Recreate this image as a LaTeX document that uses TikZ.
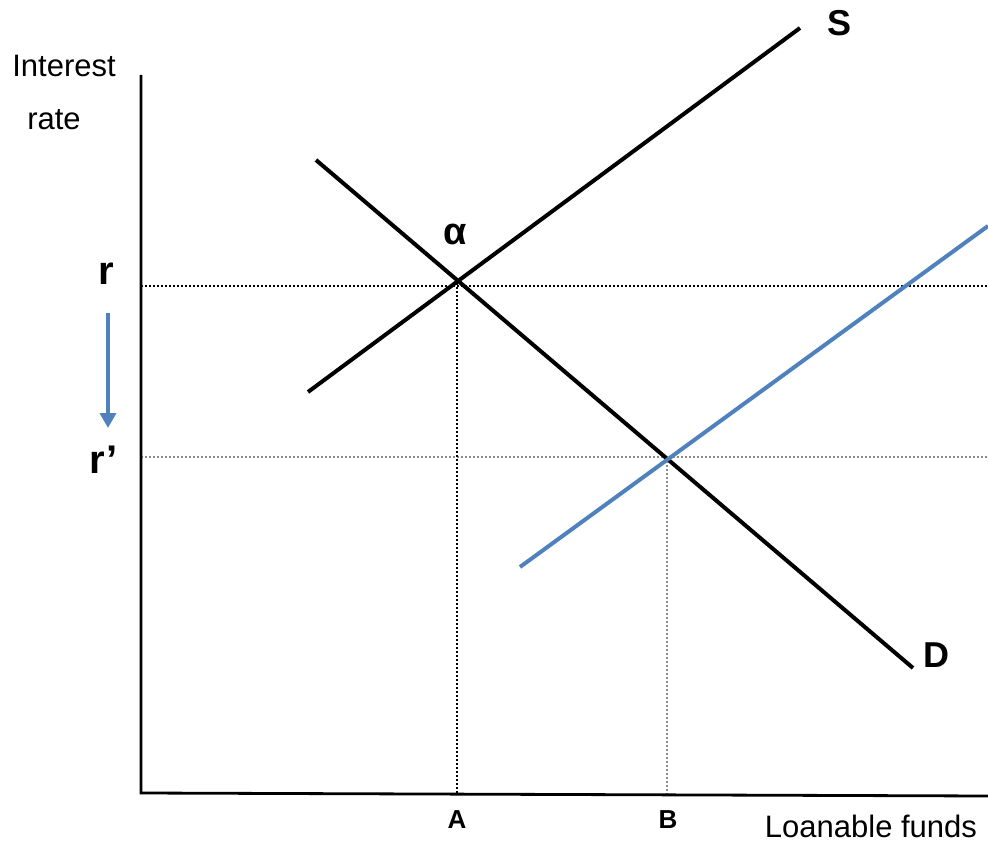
\documentclass[tikz,border=0pt]{standalone}
\usepackage{fontspec}
\setmainfont{Liberation Sans}
\usetikzlibrary{arrows.meta}
\definecolor{myblue}{HTML}{4F81BD}
\definecolor{mygray}{HTML}{8C8C8C}
\begin{document}
\begin{tikzpicture}[x=1pt,y=-1pt,
  axis/.style={line width=2.8pt,black},
  curve/.style={line width=4pt,black},
  bluecurve/.style={line width=4pt,myblue},
  dotblack/.style={line width=1.8pt,black,dash pattern=on 1.8pt off 2.2pt},
  dotgray/.style={line width=1.8pt,mygray,dash pattern=on 1.8pt off 2.2pt},
  lab/.style={inner sep=0pt,font=\fontsize{31}{36}\selectfont},
  blab/.style={inner sep=0pt,font=\fontsize{36}{40}\selectfont\bfseries},
  tick/.style={inner sep=0pt,font=\fontsize{26}{30}\selectfont\bfseries}]
\useasboundingbox (0,0) rectangle (988,842);
% coordinates
\coordinate (O) at (141,793);
\coordinate (Ytop) at (141,75);
\coordinate (Xend) at (988,796);
\coordinate (S0) at (308,392);
\coordinate (S1) at (800,28);
\coordinate (D0) at (316,160);
\coordinate (D1) at (913,668);
\coordinate (N0) at (520,567);
\coordinate (N1) at (988,226);
\coordinate (rL) at (141,286);
\coordinate (rR) at (988,286);
\coordinate (rpL) at (141,457);
\coordinate (rpR) at (988,457);
\coordinate (Atop) at (457,283);
\coordinate (Abot) at (457,793);
\coordinate (Btop) at (667,457);
\coordinate (Bbot) at (667,794);
\coordinate (arT) at (108,313);
\coordinate (arB) at (108,428);
% dotted guides
\draw[dotblack] (rL) -- (rR);
\draw[dotgray] (rpL) -- (rpR);
\draw[dotblack] (Atop) -- (Abot);
\draw[dotgray] (Btop) -- (Bbot);
% axes
\draw[axis] (Ytop) -- (O) -- (Xend);
% curves
\draw[curve] (S0) -- (S1);
\draw[curve] (D0) -- (D1);
\draw[bluecurve] (N0) -- (N1);
% arrow
\draw[myblue,line width=4pt,-{Triangle[width=16pt,length=15pt]}] (arT) -- (arB);
% labels
\node[lab] (interest) at (64,66) {Interest};
\node[lab] (rate) at (54,120) {rate};
\node[lab] (lf) at (871,826) {Loanable funds};
\node[blab,font=\fontsize{40}{44}\selectfont\bfseries] (r) at (106,274) {r};
\node[blab,font=\fontsize{40}{44}\selectfont\bfseries] (rp) at (104,460) {r’};
\node[blab,font=\fontsize{38}{42}\selectfont\bfseries] (alpha) at (455,234) {α};
\node[blab] (S) at (839,23) {S};
\node[blab] (D) at (936,655) {D};
\node[tick] (A) at (457,820) {A};
\node[tick] (B) at (668,820) {B};
\end{tikzpicture}
\end{document}
